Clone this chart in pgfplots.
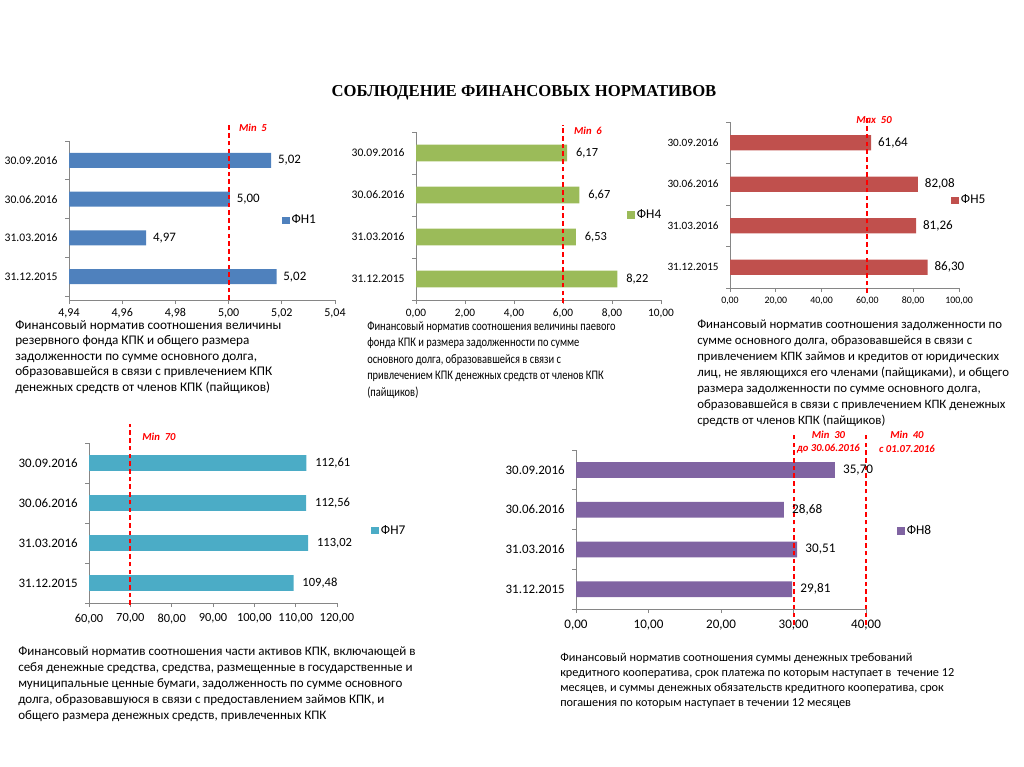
\documentclass[border=0pt]{standalone}
\usepackage{pgfplots}
\pgfplotsset{compat=1.18}
\usepackage{fontspec}
\setmainfont{Carlito}
\newfontfamily\narrowfont[FakeStretch=0.8]{Carlito}
\newfontfamily\titlefont{Liberation Serif}

\definecolor{fnblue}{HTML}{4F81BD}
\definecolor{fngreen}{HTML}{9BBB59}
\definecolor{fnred}{HTML}{C0504D}
\definecolor{fnteal}{HTML}{4BACC6}
\definecolor{fnpurple}{HTML}{8064A2}
\definecolor{axgray}{HTML}{868686}
\definecolor{normred}{HTML}{FF0000}

\newcommand{\fsz}[1]{\fontsize{#1}{#1}\selectfont}

\pgfplotsset{
  fnaxis/.style={
    scale only axis, anchor=south west, clip=false,
    axis x line*=bottom, axis y line*=left,
    axis line style={draw=axgray, line width=0.6pt},
    tick style={draw=axgray, line width=0.6pt},
    tick align=outside, major tick length=3pt, minor tick length=3pt,
    ymin=-0.5, ymax=3.5,
    ytick={0,1,2,3},
    yticklabels={31.12.2015,31.03.2016,30.06.2016,30.09.2016},
    yticklabel style={xshift=-2pt},
    minor ytick={-0.5,0.5,1.5,2.5,3.5},
    major y tick style={draw=none},
    scaled x ticks=false,
    xticklabel style={/pgf/number format/fixed, /pgf/number format/fixed zerofill,
      /pgf/number format/precision=2, /pgf/number format/use comma,
      /pgf/number format/1000 sep={}, /pgf/number format/assume math mode=true},
    legend style={draw=none, fill=none, inner sep=0pt, anchor=west,
      nodes={inner xsep=1.5pt, inner ysep=0pt}, font=\fsz{10}},
    nodes near coords style={anchor=west, inner sep=0pt, text=black},
  },
  fnbar/.style={xbar, draw=none, fill=#1, point meta=explicit symbolic, nodes near coords,
    legend image code/.code={\fill[##1] (0pt,-2.8pt) rectangle (5.6pt,2.8pt);}},
  normline/.style={draw=normred, line width=1.5pt, dash pattern=on 3.4pt off 2.4pt, forget plot},
}

\begin{document}
\begin{tikzpicture}
\path[use as bounding box] (0,0) rectangle (768pt,-575.25pt);

% ФН1
\begin{axis}[fnaxis, at={(51.75pt,-225pt)}, width=199.5pt, height=119.25pt,
  xmin=4.94, xmax=5.04, ymin=-0.6,
  x coord trafo/.code={\pgfmathparse{#1-4.94}},
  x coord inv trafo/.code={\pgfmathparse{#1+4.94}},
  xtick={4.94,4.96,4.98,5.00,5.02,5.04},
  xticklabel style={font=\fsz{9}}, yticklabel style={font=\fsz{8.7}},
  nodes near coords style={xshift=5pt, font=\fsz{9.7}},
  legend style={at={(0.80,0.5)}}]
\addplot[fnbar=fnblue, bar width=11.25pt] coordinates
  {(5.018,0) [5,02] (4.969,1) [4,97] (5.0005,2) [5,00] (5.016,3) [5,02]};
\addlegendentry{ФН1}
\addplot[normline] coordinates {(5.00,-0.6) (5.00,3.95)};
\end{axis}

% ФН4
\begin{axis}[fnaxis, at={(312pt,-225pt)}, width=183.75pt, height=126pt,
  xmin=0, xmax=10, xtick={0,2,4,6,8,10},
  xticklabel style={font=\fsz{8.5}}, yticklabel style={font=\fsz{8.7}},
  nodes near coords style={xshift=6.5pt, font=\fsz{9.3}},
  legend style={at={(0.862,0.506)}}]
\addplot[fnbar=fngreen, bar width=12.4pt] coordinates
  {(8.22,0) [8,22] (6.53,1) [6,53] (6.67,2) [6,67] (6.17,3) [6,17]};
\addlegendentry{ФН4}
\addplot[normline] coordinates {(6,-0.57) (6,3.67)};
\end{axis}

% ФН5
\begin{axis}[fnaxis, at={(547.5pt,-216pt)}, width=171.75pt, height=124.5pt,
  xmin=0, xmax=100, xtick={0,20,40,60,80,100},
  xticklabel style={font=\fsz{7.4}}, yticklabel style={font=\fsz{8.4}},
  nodes near coords style={xshift=5pt, font=\fsz{9.8}},
  legend style={at={(0.966,0.527)}}]
\addplot[fnbar=fnred, bar width=11.5pt] coordinates
  {(86.30,0) [86,30] (81.26,1) [81,26] (82.08,2) [82,08] (61.64,3) [61,64]};
\addlegendentry{ФН5}
\addplot[normline] coordinates {(60,-0.62) (60,3.6)};
\end{axis}

% ФН7
\begin{axis}[fnaxis, at={(66.75pt,-452.25pt)}, width=186pt, height=120pt,
  xmin=60, xmax=120,
  x coord trafo/.code={\pgfmathparse{#1-60}},
  x coord inv trafo/.code={\pgfmathparse{#1+60}},
  xtick={60,70,80,90,100,110,120},
  xticklabel style={font=\fsz{9.3}, yshift=-1.5pt}, yticklabel style={font=\fsz{9.7}},
  nodes near coords style={xshift=6.5pt, font=\fsz{9.4}},
  legend style={at={(1.138,0.453)}}]
\addplot[fnbar=fnteal, bar width=11.8pt] coordinates
  {(109.48,0) [109,48] (113.02,1) [113,02] (112.56,2) [112,56] (112.61,3) [112,61]};
\addlegendentry{ФН7}
\addplot[normline] coordinates {(70,-0.55) (70,3.98)};
\end{axis}

% ФН8
\begin{axis}[fnaxis, at={(432pt,-456.75pt)}, width=217.5pt, height=119.25pt,
  xmin=0, xmax=40, xtick={0,10,20,30,40},
  xticklabel style={font=\fsz{9.8}, yshift=-1.5pt}, yticklabel style={font=\fsz{9.7}},
  nodes near coords style={xshift=6pt, font=\fsz{9.9}},
  legend style={at={(1.107,0.49)}}]
\addplot[fnbar=fnpurple, bar width=11.8pt] coordinates
  {(29.81,0) [29,81] (30.51,1) [30,51] (28.68,2) [28,68] (35.70,3) [35,70]};
\addlegendentry{ФН8}
\addplot[normline] coordinates {(30,-0.9) (30,3.95)};
\addplot[normline] coordinates {(40,-0.9) (40,3.95)};
\end{axis}

\begin{scope}[x=0.75pt, y=-0.75pt]
\node[font=\titlefont\bfseries\fsz{12.5}] at (524,93) {СОБЛЮДЕНИЕ ФИНАНСОВЫХ НОРМАТИВОВ};

\begin{scope}[every node/.style={text=normred, font=\bfseries\itshape\fsz{8}, inner sep=0pt}]
\node at (253,128) {Min\ \ 5};
\node at (588,131) {Min\ \ 6};
\node at (874,120) {Max\ \ 50};
\node at (159,437) {Min\ \ 70};
\node at (828.5,435) {Min\ \ 30};
\node at (828.5,449) {до 30.06.2016};
\node at (907,435) {Min\ \ 40};
\node at (907,449) {с 01.07.2016};
\end{scope}

\node[anchor=north west, align=left, inner sep=0pt, font=\fontsize{9.9}{11.6}\selectfont] at (15,320)
 {Финансовый норматив соотношения величины\\
  резервного фонда КПК и общего размера\\
  задолженности по сумме основного долга,\\
  образовавшейся в связи с привлечением КПК\\
  денежных средств от членов КПК (пайщиков)};
\node[anchor=north west, align=left, inner sep=0pt, font=\narrowfont\fontsize{9.8}{12.4}\selectfont] at (367,321)
 {Финансовый норматив соотношения величины паевого\\
  фонда КПК и размера задолженности по сумме\\
  основного долга, образовавшейся в связи с\\
  привлечением КПК денежных средств от членов КПК\\
  (пайщиков)};
\node[anchor=north west, align=left, inner sep=0pt, font=\fontsize{9.6}{11.9}\selectfont] at (697,320)
 {Финансовый норматив соотношения задолженности по\\
  сумме основного долга, образовавшейся в связи с\\
  привлечением КПК займов и кредитов от юридических\\
  лиц, не являющихся его членами (пайщиками), и общего\\
  размера задолженности по сумме основного долга,\\
  образовавшейся в связи с привлечением КПК денежных\\
  средств от членов КПК (пайщиков)};
\node[anchor=north west, align=left, inner sep=0pt, font=\fontsize{9.75}{12}\selectfont] at (18,646)
 {Финансовый норматив соотношения части активов КПК, включающей в\\
  себя денежные средства, средства, размещенные в государственные и\\
  муниципальные ценные бумаги, задолженность по сумме основного\\
  долга, образовавшуюся в связи с предоставлением займов КПК, и\\
  общего размера денежных средств, привлеченных КПК};
\node[anchor=north west, align=left, inner sep=0pt, font=\fontsize{9.2}{11.3}\selectfont] at (560,653)
 {Финансовый норматив соотношения суммы денежных требований\\
  кредитного кооператива, срок платежа по которым наступает в\ \ течение 12\\
  месяцев, и суммы денежных обязательств кредитного кооператива, срок\\
  погашения по которым наступает в течении 12 месяцев};
\end{scope}
\end{tikzpicture}
\end{document}
